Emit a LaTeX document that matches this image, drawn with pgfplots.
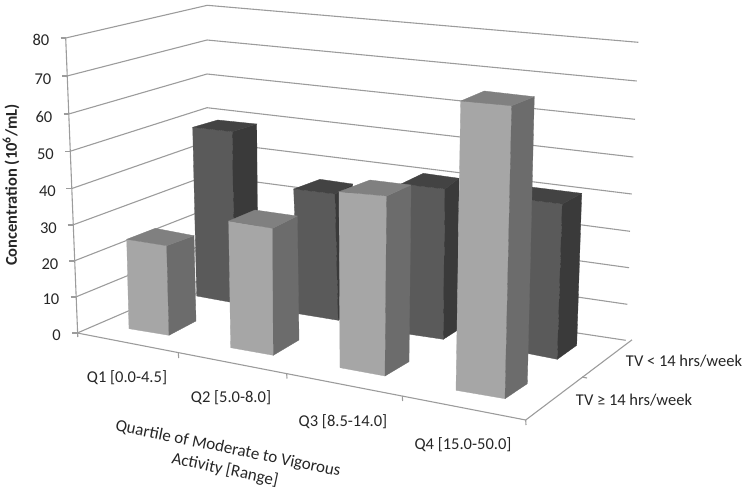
\documentclass[border=0pt]{standalone}
\usepackage{pgfplots}
\pgfplotsset{compat=1.18}
\usepackage{fontspec}
\setmainfont{Carlito}
\definecolor{gridc}{HTML}{9C9C9C}
\definecolor{lf}{HTML}{A6A6A6}
\definecolor{ls}{HTML}{6C6C6C}
\definecolor{lt}{HTML}{808080}
\definecolor{df}{HTML}{5A5A5A}
\definecolor{ds}{HTML}{3A3A3A}
\definecolor{dt}{HTML}{434343}
\newcommand\gl[1]{\addplot[color=gridc,line width=1.1pt] coordinates {#1};}
\newcommand\face[2]{\addplot[fill=#1,draw=#1,line width=0.3pt] coordinates {#2} -- cycle;}
\newcommand\lab[3]{\node[font=\fontsize{16.5}{16.5}\selectfont,text=black!85,inner sep=0pt,#1] at (axis cs:#2) {#3};}
\begin{document}
\begin{tikzpicture}
\begin{axis}[
  scale only axis, width=750pt, height=491pt,
  xmin=0, xmax=750, ymin=0, ymax=491, y dir=reverse,
  hide axis, clip=false, no markers]
\path (axis cs:0,0) rectangle (axis cs:750,491);
% side and back walls: one line for each value 0,10,...,80
\gl{(65.7,38)(207.3,5.3)(638.3,42.3)}
\gl{(67,76)(207,40)(636.7,81)}
\gl{(68.7,114)(207,74)(635,119.3)}
\gl{(70,151.3)(207,107.7)(633.3,157)}
\gl{(71.3,188.7)(207,141.5)(631.7,194)}
\gl{(72.7,225)(207,175.5)(630,231.3)}
\gl{(74,261)(207,209)(629,267.7)}
\gl{(75.7,297)(207,243)(627.3,304.3)}
\gl{(77.3,333)(207,277)(625.7,340.3)}
% value axis and its ticks
\gl{(65.7,38)(77.8,337)}
\gl{(60.5,38)(65.7,38)}
\gl{(62,76)(67,76)}
\gl{(63.5,114)(68.7,114)}
\gl{(65,151.3)(70,151.3)}
\gl{(66.3,188.7)(71.3,188.7)}
\gl{(67.7,225)(72.7,225)}
\gl{(69,261)(74,261)}
\gl{(70.7,297)(75.7,297)}
\gl{(72.3,333)(77.3,333)}
% floor front edges and ticks
\gl{(77.3,333)(525.7,420)}
\gl{(525.7,420)(632,339.8)}
\gl{(178.3,353)(178.7,358)}
\gl{(286.7,373.7)(287,378.5)}
\gl{(402.3,396)(402.6,401)}
\gl{(525.7,420)(526,425)}
\gl{(582,377)(587,378)}
% TV < 14 hrs/week, Q1
\face{df}{(192.7,127.3)(232.3,131.7)(235,303)(196.7,296)}
\face{ds}{(232.3,131.7)(256.7,124)(258,291)(235,303)}
\face{dt}{(192.7,127.3)(217.7,120)(256.7,124)(232.3,131.7)}
% TV < 14 hrs/week, Q2
\face{df}{(293.7,189)(335,194)(338.3,320.3)(298.3,313.7)}
\face{ds}{(335,194)(352.7,184)(354,310)(338.3,320.3)}
\face{dt}{(293.7,189)(320,179.3)(352.7,184)(335,194)}
% TV < 14 hrs/week, Q3
\face{df}{(401,184)(445,189)(443.3,339.3)(401,333)}
\face{ds}{(445,189)(459,178.3)(457.3,330.3)(443.3,339.3)}
\face{dt}{(401,184)(423.3,173.3)(459,178.3)(445,189)}
% TV < 14 hrs/week, Q4
\face{df}{(512,198)(562.3,204)(557.3,359.3)(510,350)}
\face{ds}{(562.3,204)(581.7,193.3)(576.7,345.3)(557.3,359.3)}
\face{dt}{(512,198)(531,187)(581.7,193.3)(562.3,204)}
% TV >= 14 hrs/week, Q1
\face{lf}{(126.7,239.3)(166.7,245.7)(169,335.3)(129,328.7)}
\face{ls}{(166.7,245.7)(194,235.7)(196,321)(169,335.3)}
\face{lt}{(126.7,239.3)(155.3,228.3)(194,235.7)(166.7,245.7)}
% TV >= 14 hrs/week, Q2
\face{lf}{(228.7,221)(272.7,228.3)(273.3,355.3)(230.7,347.7)}
\face{ls}{(272.7,228.3)(297.3,216)(299,340)(273.3,355.3)}
\face{lt}{(228.7,221)(255,210)(297.3,216)(272.7,228.3)}
% TV >= 14 hrs/week, Q3
\face{lf}{(339,191.7)(386.7,196)(385,376)(340,367.7)}
\face{ls}{(386.7,196)(411,185)(409,361.7)(385,376)}
\face{lt}{(339,191.7)(370,180)(411,185)(386.7,196)}
% TV >= 14 hrs/week, Q4
\face{lf}{(460.7,101)(511.7,105.7)(505,398.7)(456,390.3)}
\face{ls}{(511.7,105.7)(534.3,96.7)(527.3,383.7)(505,398.7)}
\face{lt}{(460.7,101)(484.3,91)(534.3,96.7)(511.7,105.7)}
% text
\lab{anchor=east}{49.5,40}{80}
\lab{anchor=east}{51.5,78.7}{70}
\lab{anchor=east}{52.5,116.7}{60}
\lab{anchor=east}{54,154}{50}
\lab{anchor=east}{56,191}{40}
\lab{anchor=east}{57,228}{30}
\lab{anchor=east}{58.5,263.7}{20}
\lab{anchor=east}{59.5,299}{10}
\lab{anchor=east}{61,335}{0}
\lab{}{127,378}{Q1 [0.0-4.5]}
\lab{}{231,398}{Q2 [5.0-8.0]}
\lab{}{343,422}{Q3 [8.5-14.0]}
\lab{}{463,445}{Q4 [15.0-50.0]}
\lab{}{684,361}{TV < 14 hrs/week}
\lab{}{634,400}{TV ≥ 14 hrs/week}
\lab{rotate=-11.5,font=\fontsize{17}{17}\selectfont}{228,449}{Quartile of Moderate to Vigorous}
\lab{rotate=-12,font=\fontsize{17}{17}\selectfont}{225,470}{Activity [Range]}
\lab{rotate=90}{11,185}{\bfseries Concentration (10\textsuperscript{6}/mL)}
\end{axis}
\end{tikzpicture}
\end{document}
